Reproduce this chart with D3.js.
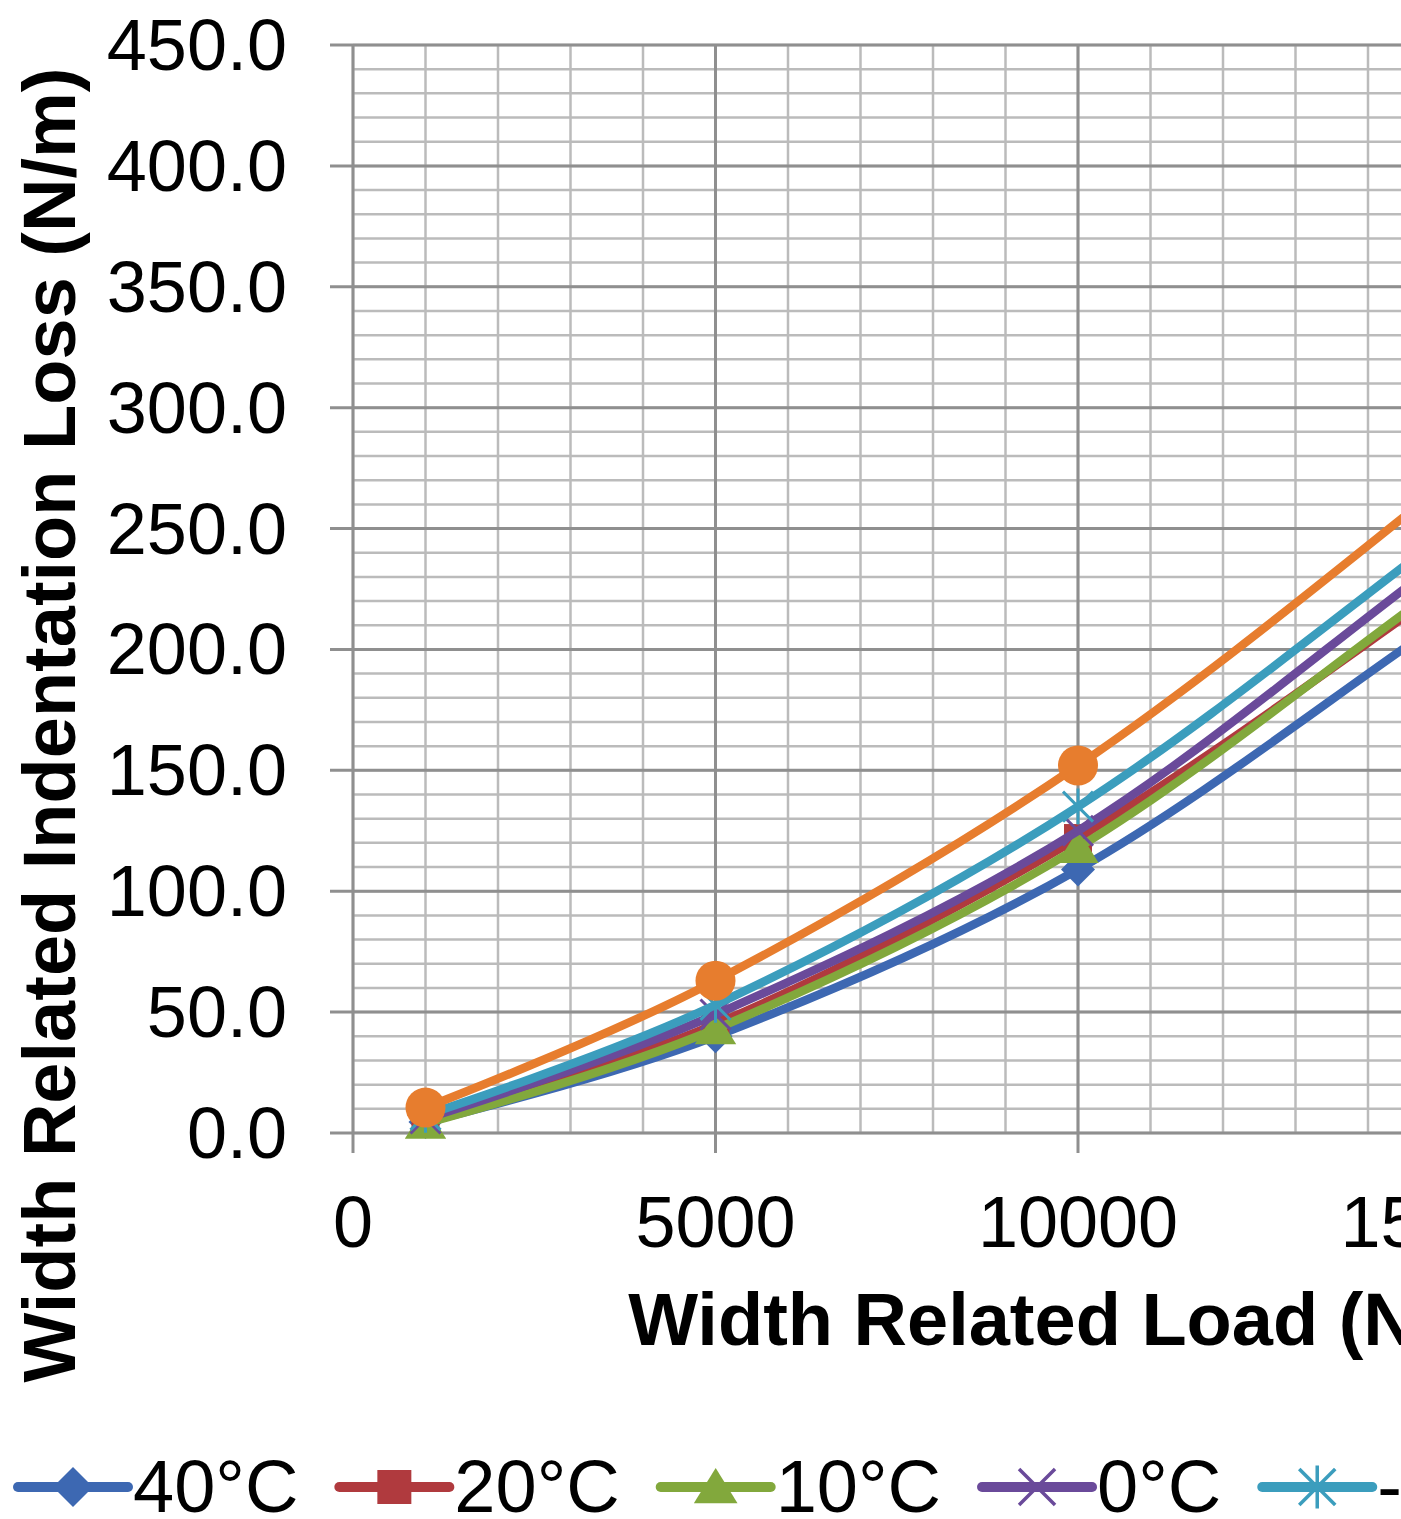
<!DOCTYPE html>
<html>
<head>
<meta charset="utf-8">
<script src="https://cdn.jsdelivr.net/npm/d3@7"></script>
<style>
  body { margin: 0; background: #fff; }
  svg { display: block; }
  text { font-family: "Liberation Sans", Arial, sans-serif; fill: #000; }
</style>
</head>
<body>
<div id="chart"></div>
<script>
//data
var loads = [1000, 5000, 10000, 15000, 20000];

var loss40 = [4.5, 40, 109, 211, 315];
var loss20 = [7, 45, 122, 224, 333];
var loss10 = [4, 43, 118, 226, 335];
var loss0 = [6, 49, 125, 236.5, 350];
var lossM10 = [7.5, 53, 135, 246, 362];
var lossM20 = [10.5, 63, 152, 267, 392];

var seriesNames = ["40°C", "20°C", "10°C", "0°C", "-10°C", "-20°C"];
var seriesColors = ["#3d68b2", "#b03a3e", "#82a83c", "#6a4a9a", "#3b9dbd", "#e77d2e"];
var seriesValues = [loss40, loss20, loss10, loss0, lossM10, lossM20];

var xTicks = [0, 5000, 10000, 15000, 20000];
var yTicks = [0, 50, 100, 150, 200, 250, 300, 350, 400, 450];

var W = 1401, H = 1519;

//plot area
var plotL = 353, plotR = 1803, plotT = 45, plotB = 1133;

//marker shapes, size = half width
var diamond = { draw: function(c, r){ c.moveTo(0,-r); c.lineTo(r,0); c.lineTo(0,r); c.lineTo(-r,0); c.closePath(); } };
var square = { draw: function(c, r){ c.rect(-r,-r,2*r,2*r); } };
var triangle = { draw: function(c, r){ c.moveTo(0,-r); c.lineTo(r*1.15,r*0.85); c.lineTo(-r*1.15,r*0.85); c.closePath(); } };
var cross = { draw: function(c, r){ c.moveTo(-r,-r); c.lineTo(r,r); c.moveTo(r,-r); c.lineTo(-r,r); } };
var asterisk = { draw: function(c, r){ c.moveTo(-r,-r); c.lineTo(r,r); c.moveTo(r,-r); c.lineTo(-r,r); c.moveTo(0,-r*1.2); c.lineTo(0,r*1.2); } };
var circle = { draw: function(c, r){ c.moveTo(r,0); c.arc(0,0,r,0,2*Math.PI); } };

var markerTypes = [diamond, square, triangle, cross, asterisk, circle];
var markerSizes = [17, 14, 18, 15, 15, 20];
var legendSizes = [20, 17, 19, 18, 18, 20];
var markerFilled = [true, true, true, false, false, true];

var svg = d3.select("#chart").append("svg")
    .attr("width", W)
    .attr("height", H);

svg.append("rect").attr("width", W).attr("height", H).attr("fill", "#fff");

var xScale = d3.scaleLinear().domain([0, 20000]).range([plotL, plotR]);
var yScale = d3.scaleLinear().domain([0, 450]).range([plotB, plotT]);

var grid = svg.append("g");

//minor grid
grid.selectAll(".hminor")
    .data(yScale.ticks(45))
    .enter()
    .append("line")
    .attr("x1", plotL).attr("x2", plotR)
    .attr("y1", function(d){ return yScale(d); })
    .attr("y2", function(d){ return yScale(d); })
    .attr("stroke", "#bbbbbb")
    .attr("stroke-width", 2.5);

grid.selectAll(".vminor")
    .data(xScale.ticks(20))
    .enter()
    .append("line")
    .attr("y1", plotT).attr("y2", plotB)
    .attr("x1", function(d){ return xScale(d); })
    .attr("x2", function(d){ return xScale(d); })
    .attr("stroke", "#bbbbbb")
    .attr("stroke-width", 2.5);

//major grid
grid.selectAll(".hmajor")
    .data(yTicks)
    .enter()
    .append("line")
    .attr("x1", plotL - 23).attr("x2", plotR)
    .attr("y1", function(d){ return yScale(d); })
    .attr("y2", function(d){ return yScale(d); })
    .attr("stroke", "#8f8f8f")
    .attr("stroke-width", 3);

grid.selectAll(".vmajor")
    .data(xTicks)
    .enter()
    .append("line")
    .attr("y1", plotT).attr("y2", plotB + 20)
    .attr("x1", function(d){ return xScale(d); })
    .attr("x2", function(d){ return xScale(d); })
    .attr("stroke", "#8f8f8f")
    .attr("stroke-width", 3);

//tick labels
svg.selectAll(".ylab")
    .data(yTicks)
    .enter()
    .append("text")
    .attr("x", 287)
    .attr("y", function(d){ return yScale(d) + 25; })
    .attr("text-anchor", "end")
    .attr("font-size", 72)
    .text(function(d){ return d3.format(".1f")(d); });

svg.selectAll(".xlab")
    .data(xTicks)
    .enter()
    .append("text")
    .attr("x", function(d){ return xScale(d); })
    .attr("y", 1247)
    .attr("text-anchor", "middle")
    .attr("font-size", 72)
    .text(function(d){ return d; });

//axis titles
svg.append("text")
    .attr("x", (plotL + plotR) / 2)
    .attr("y", 1345)
    .attr("text-anchor", "middle")
    .attr("font-size", 74)
    .attr("font-weight", "bold")
    .text("Width Related Load (N/m)");

svg.append("text")
    .attr("transform", "translate(75,725) rotate(-90)")
    .attr("text-anchor", "middle")
    .attr("font-size", 74)
    .attr("font-weight", "bold")
    .text("Width Related Indentation Loss (N/m)");

//series
var line = d3.line()
    .x(function(d){ return xScale(d.x); })
    .y(function(d){ return yScale(d.y); })
    .curve(d3.curveCardinal.tension(0));

function markerPath(i, r){
  return d3.symbol().type(markerTypes[i]).size(r)();
}

seriesValues.forEach(function(vals, i){
  var pts = vals.map(function(v, j){ return {x: loads[j], y: v}; });
  var g = svg.append("g");

  g.append("path")
    .attr("d", line(pts))
    .attr("fill", "none")
    .attr("stroke", seriesColors[i])
    .attr("stroke-width", 8.5)
    .attr("stroke-linecap", "round");

  g.selectAll(".m")
    .data(pts)
    .enter()
    .append("path")
    .attr("transform", function(d){ return "translate(" + xScale(d.x) + "," + yScale(d.y) + ")"; })
    .attr("d", markerPath(i, markerSizes[i]))
    .attr("fill", markerFilled[i] ? seriesColors[i] : "none")
    .attr("stroke", seriesColors[i])
    .attr("stroke-width", markerFilled[i] ? 0 : 3);
});

//legend
var legend = svg.append("g");
var lx = 18, ly = 1487;
seriesNames.forEach(function(name, i){
  var g = legend.append("g");
  g.append("line")
    .attr("x1", lx).attr("x2", lx + 110)
    .attr("y1", ly).attr("y2", ly)
    .attr("stroke", seriesColors[i])
    .attr("stroke-width", 10)
    .attr("stroke-linecap", "round");
  g.append("path")
    .attr("transform", "translate(" + (lx + 55) + "," + ly + ")")
    .attr("d", markerPath(i, legendSizes[i]))
    .attr("fill", markerFilled[i] ? seriesColors[i] : "none")
    .attr("stroke", seriesColors[i])
    .attr("stroke-width", markerFilled[i] ? 0 : 3.5);
  var t = g.append("text")
    .attr("x", lx + 115)
    .attr("y", ly + 25)
    .attr("font-size", 74)
    .text(name);
  lx = lx + 115 + t.node().getComputedTextLength() + 41;
});
</script>
</body>
</html>
